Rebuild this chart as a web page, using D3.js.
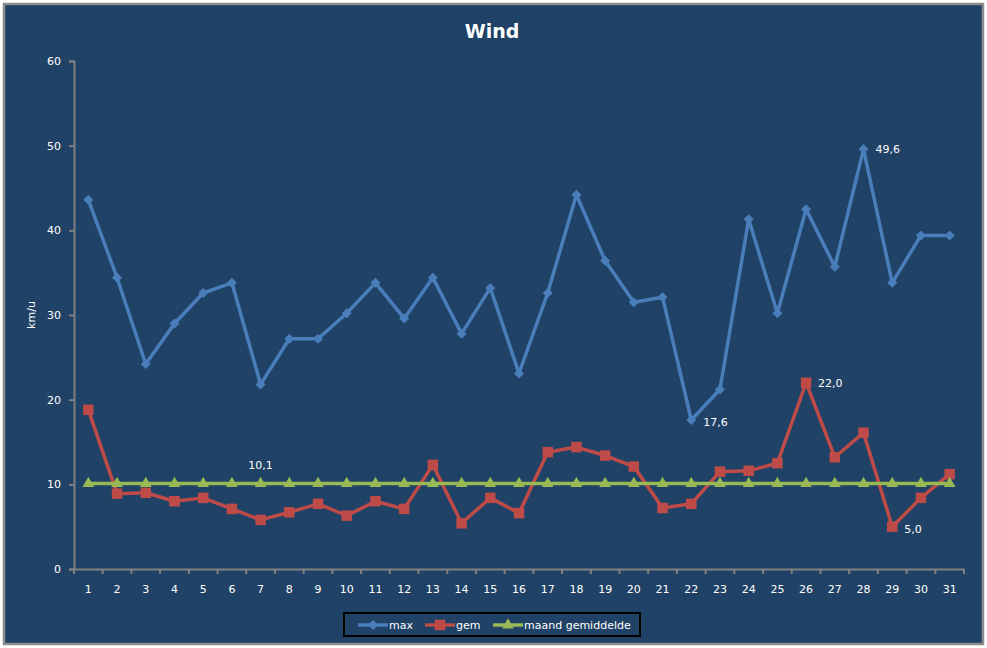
<!DOCTYPE html>
<html>
<head>
<meta charset="utf-8">
<script src="https://cdn.jsdelivr.net/npm/d3@7"></script>
<style>
  body { margin: 0; background: #ffffff; }
  text { font-family: "DejaVu Sans", Verdana, sans-serif; fill: #ffffff; }
</style>
</head>
<body>
<div id="chart"></div>
<script>
// data
var days = d3.range(1, 32).map(String);
var maxWind = [43.6, 34.4, 24.2, 29.0, 32.6, 33.8, 21.8, 27.2, 27.2, 30.2, 33.8, 29.6, 34.4, 27.8, 33.2, 23.1,
               32.6, 44.2, 36.4, 31.5, 32.1, 17.6, 21.2, 41.3, 30.2, 42.5, 35.7, 49.6, 33.8, 39.4, 39.4];
var gemWind = [18.8, 8.9, 9.0, 8.0, 8.4, 7.1, 5.8, 6.7, 7.7, 6.3, 8.0, 7.1, 12.3, 5.4, 8.4, 6.6,
               13.8, 14.4, 13.4, 12.1, 7.2, 7.7, 11.5, 11.6, 12.5, 22.0, 13.2, 16.1, 5.0, 8.4, 11.2];
var maandGem = days.map(function() { return 10.1; });
var yTicks = [0, 10, 20, 30, 40, 50, 60];
var seriesNames = ["max", "gem", "maand gemiddelde"];
// labelled points: [series, index, text]
var labels = [["max", 27, "49,6"], ["max", 21, "17,6"], ["gem", 25, "22,0"], ["gem", 28, "5,0"], ["maand gemiddelde", 6, "10,1"]];

var W = 987, H = 648;
var margin = {top: 61, right: 23, bottom: 79, left: 74},
    width = W - margin.left - margin.right,
    height = H - margin.top - margin.bottom;

var svg = d3.select("#chart").append("svg")
    .attr("width", W)
    .attr("height", H);

// chart background + border
svg.append("rect")
    .attr("x", 4).attr("y", 4)
    .attr("width", W - 8).attr("height", H - 8)
    .attr("fill", "#1f4266")
    .attr("stroke", "#8c8c8c")
    .attr("stroke-width", 2.5);

svg.append("text")
    .attr("x", 492).attr("y", 38)
    .attr("text-anchor", "middle")
    .style("font-size", "19px")
    .style("font-weight", "bold")
    .text("Wind");

var g = svg.append("g")
    .attr("transform", "translate(" + margin.left + "," + margin.top + ")");

var x = d3.scaleBand().domain(days).range([0, width]);
var y = d3.scaleLinear().domain([0, 60]).range([height, 0]);
var cx = function(i) { return x(days[i]) + x.bandwidth() / 2; };

// axes
var yAxis = g.append("g")
    .call(d3.axisLeft(y).tickValues(yTicks).tickSize(5).tickPadding(8));
var xAxis = g.append("g")
    .attr("transform", "translate(0," + height + ")")
    .call(d3.axisBottom(x).tickSize(0).tickPadding(16));

// tick marks between categories
xAxis.selectAll(".sep")
    .data(d3.range(0, days.length + 1))
    .enter().append("line")
    .attr("x1", function(i) { return i * x.step(); })
    .attr("x2", function(i) { return i * x.step(); })
    .attr("y1", 0).attr("y2", 5)
    .attr("stroke", "#808080").attr("stroke-width", 2);

[yAxis, xAxis].forEach(function(a) {
  a.selectAll(".domain").attr("stroke", "#808080").attr("stroke-width", 2);
  a.selectAll(".tick line").attr("stroke", "#808080").attr("stroke-width", 2);
  a.selectAll("text").style("font-size", "11px").attr("fill", "#ffffff");
});

svg.append("text")
    .attr("transform", "translate(35,315) rotate(-90)")
    .attr("text-anchor", "middle")
    .style("font-size", "11px")
    .text("km/u");

var series = [
  {name: "max", values: maxWind, color: "#4a7ebb", marker: "diamond"},
  {name: "gem", values: gemWind, color: "#be4b48", marker: "square"},
  {name: "maand gemiddelde", values: maandGem, color: "#98b954", marker: "triangle"}
];

var symbolFor = {
  diamond: d3.symbol().type(d3.symbolSquare).size(50),
  square: d3.symbol().type(d3.symbolSquare).size(110),
  triangle: d3.symbol().type(d3.symbolTriangle).size(60)
};
var rotFor = {diamond: 45, square: 0, triangle: 0};

var line = d3.line()
    .x(function(d, i) { return cx(i); })
    .y(function(d) { return y(d); });

series.forEach(function(s) {
  var sg = g.append("g");
  sg.append("path")
      .datum(s.values)
      .attr("fill", "none")
      .attr("stroke", s.color)
      .attr("stroke-width", 3.5)
      .attr("stroke-linejoin", "round")
      .attr("d", line);
  sg.selectAll(".m")
      .data(s.values)
      .enter().append("path")
      .attr("transform", function(d, i) {
        return "translate(" + cx(i) + "," + y(d) + ") rotate(" + rotFor[s.marker] + ")";
      })
      .attr("d", symbolFor[s.marker])
      .attr("fill", s.color);
});

// data labels
labels.forEach(function(l) {
  var s = series.filter(function(d) { return d.name === l[0]; })[0];
  var v = s.values[l[1]];
  var tx = cx(l[1]) + 12, ty = y(v) + 4, anchor = "start";
  if (l[0] === "maand gemiddelde") { tx = cx(l[1]); ty = y(v) - 14; anchor = "middle"; }
  if (l[2] === "17,6" || l[2] === "5,0") ty = y(v) + 6;
  g.append("text")
      .attr("x", tx).attr("y", ty)
      .attr("text-anchor", anchor)
      .style("font-size", "11px")
      .text(l[2]);
});

// legend
var lg = svg.append("g");
lg.append("rect")
    .attr("x", 344).attr("y", 613)
    .attr("width", 296).attr("height", 23)
    .attr("fill", "none")
    .attr("stroke", "#000000")
    .attr("stroke-width", 2);

var legendX = [358, 425, 493];
series.forEach(function(s, i) {
  var lx = legendX[i];
  lg.append("line")
      .attr("x1", lx).attr("x2", lx + 30)
      .attr("y1", 625).attr("y2", 625)
      .attr("stroke", s.color).attr("stroke-width", 3.5);
  lg.append("path")
      .attr("transform", "translate(" + (lx + 15) + ",625) rotate(" + rotFor[s.marker] + ")")
      .attr("d", symbolFor[s.marker])
      .attr("fill", s.color);
  lg.append("text")
      .attr("x", lx + 31).attr("y", 629)
      .style("font-size", "11px")
      .text(seriesNames[i]);
});
</script>
</body>
</html>
